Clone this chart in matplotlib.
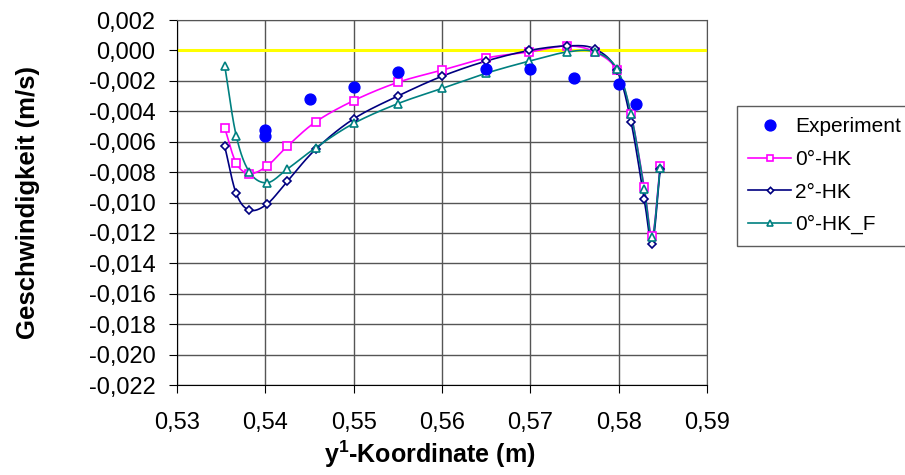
import numpy as np
import matplotlib
matplotlib.use("Agg")
import matplotlib.pyplot as plt
from matplotlib.ticker import FuncFormatter, MultipleLocator
from matplotlib.lines import Line2D

plt.rcParams['font.family'] = ['Liberation Sans', 'DejaVu Sans']
plt.rcParams['mathtext.fontset'] = 'custom'
plt.rcParams['mathtext.bf'] = 'Liberation Sans:bold'
plt.rcParams['mathtext.rm'] = 'Liberation Sans:bold'

# Measured velocities
exp_x = [0.540, 0.540, 0.545, 0.550, 0.555, 0.565, 0.570, 0.575, 0.580, 0.582]
exp_y = [-0.0052, -0.0056, -0.0032, -0.0024, -0.0014, -0.0012, -0.00125, -0.0018, -0.0022, -0.0035]

# Simulated profiles (shared sampling positions)
sim_x = [0.5354, 0.5367, 0.5382, 0.5402, 0.5425, 0.5457, 0.5500, 0.5550, 0.5600,
         0.5650, 0.5699, 0.5742, 0.5773, 0.5798, 0.5814, 0.5829, 0.5838, 0.5847]
hk0_y = [-0.0051, -0.0074, -0.0081, -0.0076, -0.0063, -0.0047, -0.0033, -0.0021, -0.0013,
         -0.0005, -0.0001, 0.0003, -0.0001, -0.0013, -0.0042, -0.0090, -0.0122, -0.0076]
hk2_y = [-0.0063, -0.0094, -0.0105, -0.0101, -0.0086, -0.0065, -0.0045, -0.0030, -0.0017,
         -0.0007, 0.0000, 0.0003, 0.0001, -0.0013, -0.0047, -0.0098, -0.0127, -0.0078]
hkf_y = [-0.0010, -0.0056, -0.0080, -0.0087, -0.0078, -0.0064, -0.0048, -0.0035, -0.0025,
         -0.0015, -0.0007, -0.0001, -0.0001, -0.0012, -0.0042, -0.0091, -0.0123, -0.0077]

x_ticks = [0.53, 0.54, 0.55, 0.56, 0.57, 0.58, 0.59]


def smooth(xs, ys, n=20):
    """Catmull-Rom curve through the given points."""
    p = np.column_stack([xs, ys]).astype(float)
    p = np.vstack([2 * p[0] - p[1], p, 2 * p[-1] - p[-2]])
    out = []
    t = np.linspace(0, 1, n, endpoint=False)[:, None]
    for i in range(1, len(p) - 2):
        p0, p1, p2, p3 = p[i - 1], p[i], p[i + 1], p[i + 2]
        seg = 0.5 * ((2 * p1) + (-p0 + p2) * t + (2 * p0 - 5 * p1 + 4 * p2 - p3) * t ** 2
                     + (-p0 + 3 * p1 - 3 * p2 + p3) * t ** 3)
        out.append(seg)
    out.append(p[-2][None, :])
    out = np.vstack(out)
    return out[:, 0], out[:, 1]


fig = plt.figure(figsize=(9.05, 4.75), dpi=100)
ax = fig.add_axes([177 / 905, 1 - 385 / 475, 530 / 905, 365 / 475])

ax.set_xlim(x_ticks[0], x_ticks[-1])
ax.set_ylim(-0.022, 0.002)
ax.set_xticks(x_ticks)
ax.yaxis.set_major_locator(MultipleLocator(0.002))
ax.xaxis.set_major_formatter(FuncFormatter(lambda v, p: f"{v:.2f}".replace(".", ",")))
ax.yaxis.set_major_formatter(FuncFormatter(lambda v, p: f"{v:.3f}".replace(".", ",").replace("-0,000", "0,000")))
ax.grid(True, color='#555555', linewidth=1.0)
ax.set_axisbelow(True)

ax.axhline(0, color='#FFFF00', linewidth=2.2, zorder=2)

series = [
    ("0°-HK", hk0_y, '#FF00FF', 's', 5.5),
    ("2°-HK", hk2_y, '#000080', 'D', 4.0),
    ("0°-HK_F", hkf_y, '#008080', '^', 6.0),
]
handles = [Line2D([], [], linestyle='none', marker='o', markersize=7.8,
                  color='#0000FF', label='Experiment')]
for name, ys, col, mk, ms in series:
    sx, sy = smooth(sim_x, ys)
    ax.plot(sx, sy, color=col, linewidth=1.2, zorder=3)
    ax.plot(sim_x, ys, linestyle='none', marker=mk, markersize=ms, markerfacecolor='white',
            markeredgecolor=col, markeredgewidth=1.2, zorder=4)
    handles.append(Line2D([], [], color=col, linewidth=1.2, marker=mk, markersize=ms * 0.8,
                          markerfacecolor='white', markeredgecolor=col, markeredgewidth=1.2,
                          label=name))

ax.plot(exp_x, exp_y, linestyle='none', marker='o', markersize=7.8, color='#0000FF', zorder=5)

for s in ['top', 'right']:
    ax.spines[s].set_color('#555555')
ax.spines['left'].set_color('black')
ax.spines['bottom'].set_color('black')
ax.tick_params(axis='both', direction='out', length=5.5, labelsize=17, color='black')
ax.tick_params(axis='y', pad=10)
ax.tick_params(axis='x', pad=14)

ax.set_ylabel("Geschwindigkeit (m/s)", fontsize=18.5, fontweight='bold')
ax.yaxis.set_label_coords(-(177 - 40) / 530, 0.5)
ax.set_xlabel(r"y$^{\mathbf{1}}$-Koordinate (m)", fontsize=18, fontweight='bold')
ax.xaxis.set_label_coords((430 - 177) / 530, -(439 - 385) / 365)

leg = fig.legend(handles=handles, loc='upper left', bbox_to_anchor=(737 / 905, 1 - 106 / 475),
                 fontsize=15, frameon=True, fancybox=False, handlelength=2.05,
                 handletextpad=0.2, borderpad=0.55, labelspacing=0.65, borderaxespad=0)
leg.get_frame().set_edgecolor('#333333')
leg.get_frame().set_linewidth(1.0)

fig.savefig("out.png", dpi=100)
